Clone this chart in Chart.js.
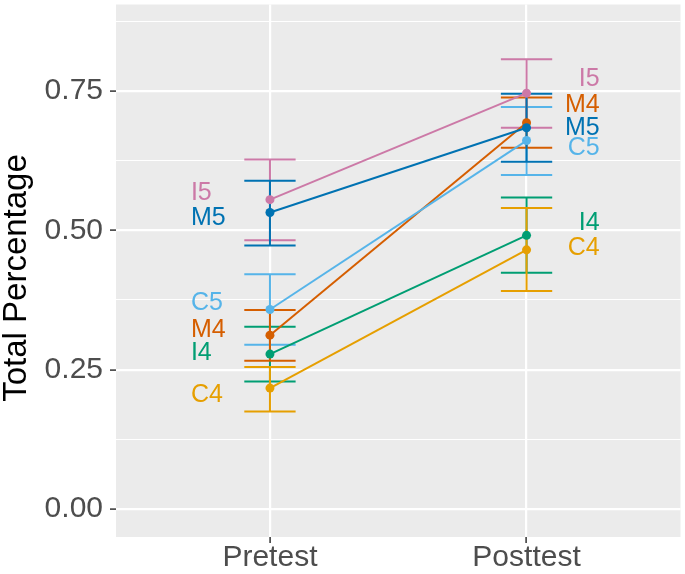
<!DOCTYPE html>
<html>
<head>
<meta charset="utf-8">
<title>Total Percentage</title>
<script src="https://cdn.jsdelivr.net/npm/chart.js@4.4.0/dist/chart.umd.min.js"></script>
<style>
  html,
  body {
    margin: 0;
    padding: 0;
    background: #ffffff;
  }
</style>
</head>
<body>
<canvas id="myChartPourcentage" width="685" height="574"></canvas>
<script>
//? Données (ordre des groupes : I5, M5, C5, M4, I4, C4).

const categories = ["Pretest", "Posttest"];
const groupes = ["I5", "M5", "C5", "M4", "I4", "C4"];
const couleurs = ["#CC79A7", "#0072B2", "#56B4E9", "#D55E00", "#009E73", "#E69F00"];

const moyennePre = [0.555, 0.532, 0.358, 0.312, 0.278, 0.217];
const basPre = [0.482, 0.473, 0.295, 0.266, 0.229, 0.175];
const hautPre = [0.627, 0.589, 0.421, 0.357, 0.327, 0.255];

const moyennePost = [0.746, 0.684, 0.661, 0.693, 0.491, 0.465];
const basPost = [0.684, 0.623, 0.599, 0.648, 0.424, 0.391];
const hautPost = [0.807, 0.745, 0.721, 0.738, 0.559, 0.540];

// hauteur des étiquettes de groupe à gauche (pretest) et à droite (posttest)
const etiquettePre = [0.567, 0.522, 0.370, 0.321, 0.279, 0.204];
const etiquettePost = [0.771, 0.684, 0.647, 0.725, 0.513, 0.468];

const yTicksMajeurs = [0, 0.25, 0.5, 0.75];
const yTicksMineurs = [0.125, 0.375, 0.625, 0.875];
const yTickLabels = ["0.00", "0.25", "0.50", "0.75"];

//? -------------------------------------------------

const police = "'Liberation Sans', Arial, Helvetica, sans-serif";
Chart.defaults.font.family = police;

//? Fond gris du panneau (style ggplot).

const fondPanneau = {
  id: "fondPanneau",
  beforeDraw(chart) {
    const { ctx, chartArea } = chart;
    ctx.save();
    ctx.fillStyle = "#EBEBEB";
    ctx.fillRect(
      chartArea.left,
      chartArea.top,
      chartArea.right - chartArea.left,
      chartArea.bottom - chartArea.top
    );
    ctx.restore();
  },
};

//? Barres d'erreur, dessinées sous les lignes et les points.

const barresErreur = {
  id: "barresErreur",
  beforeDatasetsDraw(chart, args, opts) {
    const { ctx } = chart;
    const x = chart.scales.x;
    const y = chart.scales.y;
    const bas = [basPre, basPost];
    const haut = [hautPre, hautPost];

    ctx.save();
    ctx.lineWidth = opts.largeurTrait;
    opts.ordre.forEach((g) => {
      ctx.strokeStyle = couleurs[g];
      categories.forEach((c, i) => {
        const px = x.getPixelForValue(i);
        const gauche = x.getPixelForValue(i - opts.demiLargeur);
        const droite = x.getPixelForValue(i + opts.demiLargeur);
        const yBas = y.getPixelForValue(bas[i][g]);
        const yHaut = y.getPixelForValue(haut[i][g]);
        ctx.beginPath();
        ctx.moveTo(px, yHaut);
        ctx.lineTo(px, yBas);
        ctx.moveTo(gauche, yHaut);
        ctx.lineTo(droite, yHaut);
        ctx.moveTo(gauche, yBas);
        ctx.lineTo(droite, yBas);
        ctx.stroke();
      });
    });
    ctx.restore();
  },
};

//? Étiquettes des groupes et titre de l'axe Y.

const etiquettes = {
  id: "etiquettes",
  afterDatasetsDraw(chart, args, opts) {
    const { ctx } = chart;
    const x = chart.scales.x;
    const y = chart.scales.y;

    ctx.save();
    ctx.font = `${opts.taille}px ${police}`;
    ctx.textBaseline = "middle";
    groupes.forEach((nom, g) => {
      ctx.fillStyle = couleurs[g];
      ctx.textAlign = "left";
      ctx.fillText(nom, x.getPixelForValue(opts.xPre), y.getPixelForValue(etiquettePre[g]));
      ctx.textAlign = "right";
      ctx.fillText(nom, x.getPixelForValue(opts.xPost), y.getPixelForValue(etiquettePost[g]));
    });

    // titre Y : un peu plus bas que le centre du panneau, comme sur l'original
    ctx.fillStyle = "#000000";
    ctx.font = `${opts.tailleTitre}px ${police}`;
    ctx.textAlign = "center";
    ctx.translate(opts.titreX, opts.titreY);
    ctx.rotate(-Math.PI / 2);
    ctx.fillText("Total Percentage", 0, 0);
    ctx.restore();
  },
};

//? -------------------------------------------------

//? Construction du graphique.

const estMajeur = (v) => yTicksMajeurs.includes(v);

const constructionDuGraphique = () => {
  try {
    const ctx = document.getElementById("myChartPourcentage").getContext("2d");

    const datasets = groupes.map((nom, g) => ({
      label: nom,
      data: [
        { x: 0, y: moyennePre[g] },
        { x: 1, y: moyennePost[g] },
      ],
      borderColor: couleurs[g],
      backgroundColor: couleurs[g],
      borderWidth: 2,
      pointRadius: 4.5,
      pointBorderWidth: 0,
      pointBackgroundColor: couleurs[g],
      tension: 0,
    }));

    const config = {
      type: "line",
      data: { datasets },
      options: {
        responsive: false,
        animation: false,
        devicePixelRatio: 1,
        layout: { padding: { top: 2, right: 4, left: 0, bottom: 0 } },
        plugins: {
          legend: { display: false },
          tooltip: { enabled: false },
          barresErreur: {
            ordre: [4, 5, 2, 3, 0, 1],
            demiLargeur: 0.1,
            largeurTrait: 2,
          },
          etiquettes: {
            taille: 25,
            xPre: -0.308,
            xPost: 1.285,
            tailleTitre: 33,
            titreX: 16.6,
            titreY: 278,
          },
        },
        scales: {
          x: {
            type: "linear",
            min: -0.6,
            max: 1.6,
            afterBuildTicks: (s) => {
              s.ticks = categories.map((c, i) => ({ value: i }));
            },
            afterFit: (s) => {
              s.height = 37;
              s.paddingLeft = 0;
              s.paddingRight = 0;
            },
            ticks: {
              callback: (v) => categories[v] ?? "",
              font: { size: 30, lineHeight: 1 },
              color: "#4D4D4D",
              padding: 0,
              maxRotation: 0,
              autoSkip: false,
            },
            grid: {
              color: "#FFFFFF",
              lineWidth: 2.2,
              tickLength: 6,
              tickColor: "#333333",
              tickWidth: 1.5,
            },
            border: { display: false },
          },
          y: {
            type: "linear",
            min: -0.05,
            max: 0.905,
            afterBuildTicks: (s) => {
              s.ticks = [...yTicksMajeurs, ...yTicksMineurs]
                .sort((a, b) => a - b)
                .map((v) => ({ value: v }));
            },
            afterFit: (s) => {
              s.width = 116;
              s.paddingTop = 0;
              s.paddingBottom = 0;
            },
            ticks: {
              callback: (v) => {
                const i = yTicksMajeurs.indexOf(v);
                return i >= 0 ? yTickLabels[i] : "";
              },
              font: { size: 30 },
              color: "#4D4D4D",
              padding: 7,
              autoSkip: false,
            },
            grid: {
              color: "#FFFFFF",
              lineWidth: (c) => (estMajeur(c.tick.value) ? 2.2 : 1.1),
              tickLength: 6,
              tickColor: (c) => (estMajeur(c.tick.value) ? "#333333" : "rgba(0,0,0,0)"),
              tickWidth: 1.5,
            },
            border: { display: false },
          },
        },
      },
      plugins: [fondPanneau, barresErreur, etiquettes],
    };

    new Chart(ctx, config);
  } catch (error) {
    console.error("🔴 ERREUR | Construction graphique :", error);
  }
};

constructionDuGraphique();
</script>
</body>
</html>
